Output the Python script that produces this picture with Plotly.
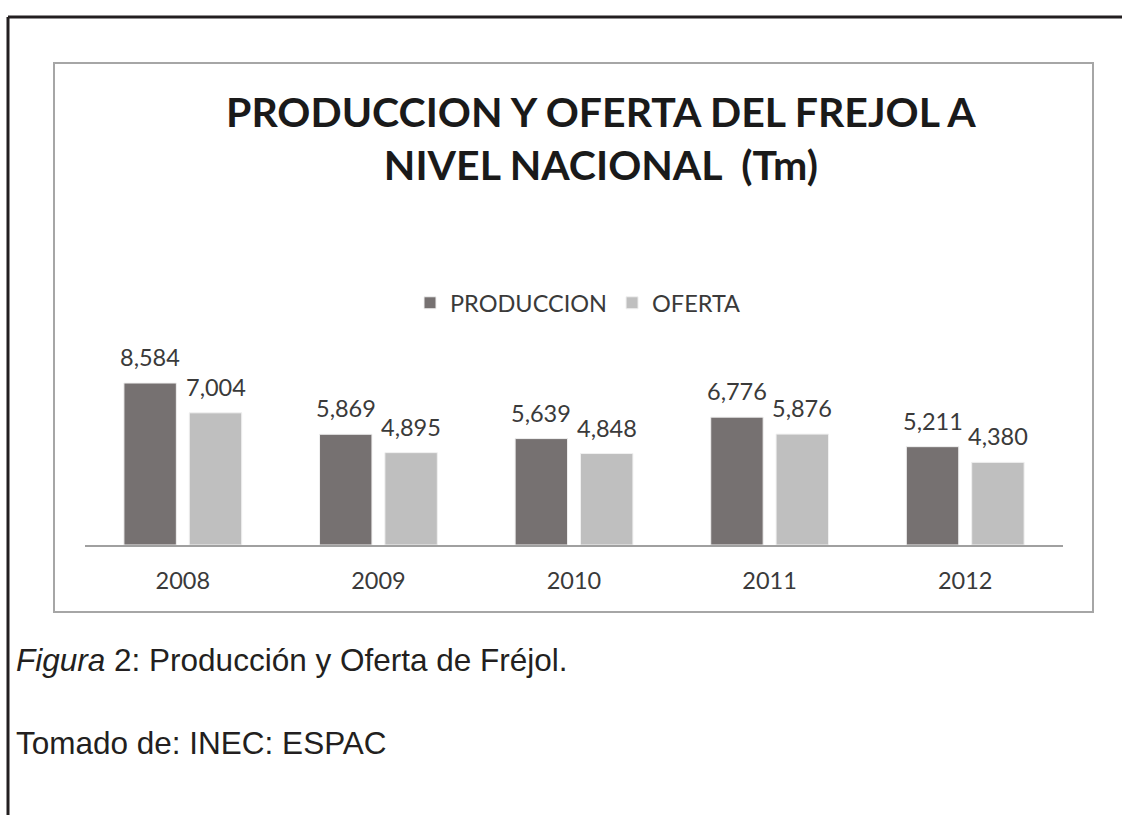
import plotly.graph_objects as go

years = ["2008", "2009", "2010", "2011", "2012"]
produccion = [8584, 5869, 5639, 6776, 5211]
oferta = [7004, 4895, 4848, 5876, 4380]
series_names = ["PRODUCCION", "OFERTA"]
title_text = "<b>PRODUCCION Y OFERTA DEL FREJOL A<br>NIVEL NACIONAL  (Tm)</b>"
caption_1 = "<i>Figura</i> 2: Producción y Oferta de Fréjol."
caption_2 = "Tomado de: INEC: ESPAC"

W, H = 1122, 815
BAR_W = 0.268
OFF_P = -0.301
OFF_O = 0.0332
FONT = "Lato"
TXT = "#3a3a3a"

def px(x):
    return x / W

def py(y):
    return 1 - y / H

idx = list(range(len(years)))

fig = go.Figure()
fig.add_trace(go.Bar(
    x=idx, y=produccion, name=series_names[0], width=BAR_W, offset=OFF_P,
    marker=dict(color="#767171", line=dict(color="#f0f0f0", width=1)),
))
fig.add_trace(go.Bar(
    x=idx, y=oferta, name=series_names[1], width=BAR_W, offset=OFF_O,
    marker=dict(color="#bfbfbf", line=dict(color="#f0f0f0", width=1)),
))

annotations = []
for i, v in zip(idx, produccion):
    annotations.append(dict(x=i + OFF_P + BAR_W / 2, y=v, xref="x", yref="y",
                            text=f"{v:,}", showarrow=False, yanchor="bottom",
                            yshift=10, font=dict(family=FONT, size=23.5, color=TXT)))
for i, v in zip(idx, oferta):
    annotations.append(dict(x=i + OFF_O + BAR_W / 2, y=v, xref="x", yref="y",
                            text=f"{v:,}", showarrow=False, yanchor="bottom",
                            yshift=10, font=dict(family=FONT, size=23.5, color=TXT)))

annotations.append(dict(x=px(601), y=py(138), xref="paper", yref="paper",
                        text=title_text, showarrow=False, xanchor="center", yanchor="middle",
                        font=dict(family=FONT, size=41, color="#1a1a1a")))
annotations.append(dict(x=px(14), y=py(660), xref="paper", yref="paper",
                        text=caption_1, showarrow=False, xanchor="left", yanchor="middle",
                        font=dict(family="Liberation Sans", size=31.5, color="#231f20")))
annotations.append(dict(x=px(14), y=py(743), xref="paper", yref="paper",
                        text=caption_2, showarrow=False, xanchor="left", yanchor="middle",
                        font=dict(family="Liberation Sans", size=31.5, color="#231f20")))

shapes = [
    dict(type="rect", xref="paper", yref="paper", x0=px(54), x1=px(1093), y0=py(612), y1=py(63),
         line=dict(color="#a6a6a6", width=2), fillcolor="rgba(0,0,0,0)", layer="below"),
    dict(type="line", xref="paper", yref="paper", x0=px(8), x1=px(8), y0=py(17), y1=0,
         line=dict(color="#231f20", width=3)),
    dict(type="line", xref="paper", yref="paper", x0=px(8), x1=1, y0=py(17), y1=py(17),
         line=dict(color="#231f20", width=3)),
]

fig.update_layout(
    width=W, height=H,
    margin=dict(l=0, r=0, t=0, b=0),
    paper_bgcolor="white", plot_bgcolor="white",
    barmode="group",
    showlegend=True,
    legend=dict(orientation="h", x=px(578), xanchor="center", y=py(303), yanchor="middle",
                font=dict(family=FONT, size=23.5, color=TXT), bgcolor="rgba(0,0,0,0)",
                traceorder="normal"),
    xaxis=dict(domain=[px(85), px(1063)], range=[-0.5, 4.5], tickmode="array",
               tickvals=idx, ticktext=years, showline=True, linecolor="#a0a0a0", linewidth=2,
               showgrid=False, zeroline=False, ticks="", ticklabelstandoff=14,
               tickfont=dict(family=FONT, size=23.5, color=TXT), fixedrange=True),
    yaxis=dict(domain=[py(545), py(330)], range=[0, 11394], visible=False,
               showgrid=False, zeroline=False, fixedrange=True),
    annotations=annotations,
    shapes=shapes,
    font=dict(family=FONT),
)

fig.write_html("out.html", config={"displayModeBar": False},
               post_script="document.body.style.margin='0px';")
